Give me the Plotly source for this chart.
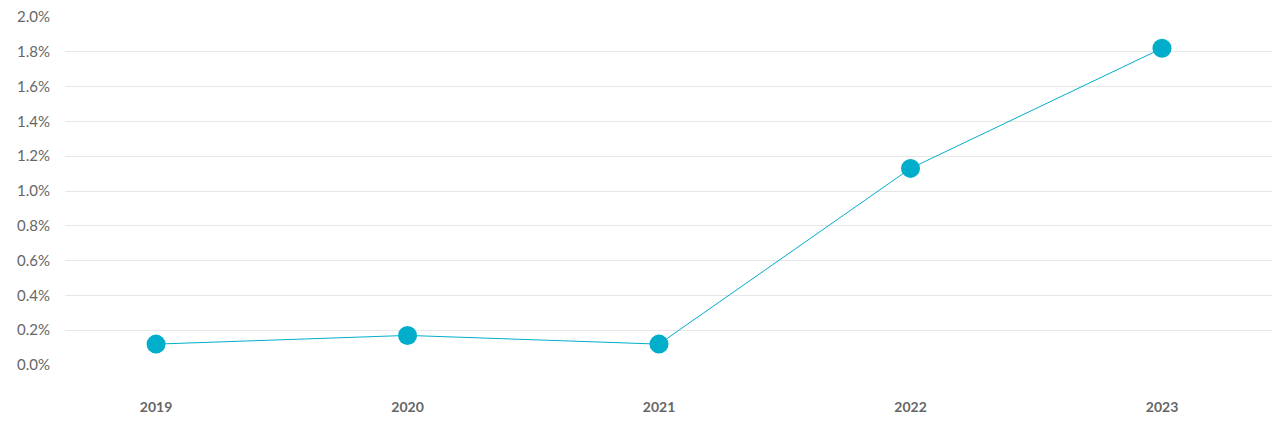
import plotly.graph_objects as go

years = ["2019", "2020", "2021", "2022", "2023"]
rates = [0.12, 0.17, 0.12, 1.13, 1.82]
y_ticks = [0.0, 0.2, 0.4, 0.6, 0.8, 1.0, 1.2, 1.4, 1.6, 1.8, 2.0]

color = "#00AECB"

fig = go.Figure(go.Scatter(
    x=list(range(len(years))), y=rates, mode="lines+markers",
    line=dict(color=color, width=1),
    marker=dict(color=color, size=19, line=dict(width=0)),
    hoverinfo="skip",
    cliponaxis=False,
))

# page body adds an 8px offset, so margins compensate
fig.update_layout(
    width=1280, height=428,
    margin=dict(l=57, r=0, t=9, b=71),
    paper_bgcolor="white", plot_bgcolor="white",
    showlegend=False,
    font=dict(family="Lato, Open Sans, sans-serif", color="#666666", size=14),
)
fig.update_xaxes(
    range=[-0.362, 4.501],
    tickvals=list(range(len(years))), ticktext=years,
    showgrid=False, zeroline=False, showline=False, ticks="",
    tickfont=dict(size=14, color="#666666", family="Lato, sans-serif", weight="bold"),
    ticklabelstandoff=32, automargin=False, ticklabeloverflow="allow",
)
fig.update_yaxes(
    range=[0, 2.0], tickvals=y_ticks,
    ticktext=[f"{v:.1f}%" for v in y_ticks],
    showgrid=True, gridcolor="#e6e6e6", gridwidth=1,
    zeroline=False, showline=False, ticks="",
    tickfont=dict(size=15, color="#666666"),
    ticklabelstandoff=14, automargin=False, ticklabeloverflow="allow",
)

fig.write_html("out.html")
